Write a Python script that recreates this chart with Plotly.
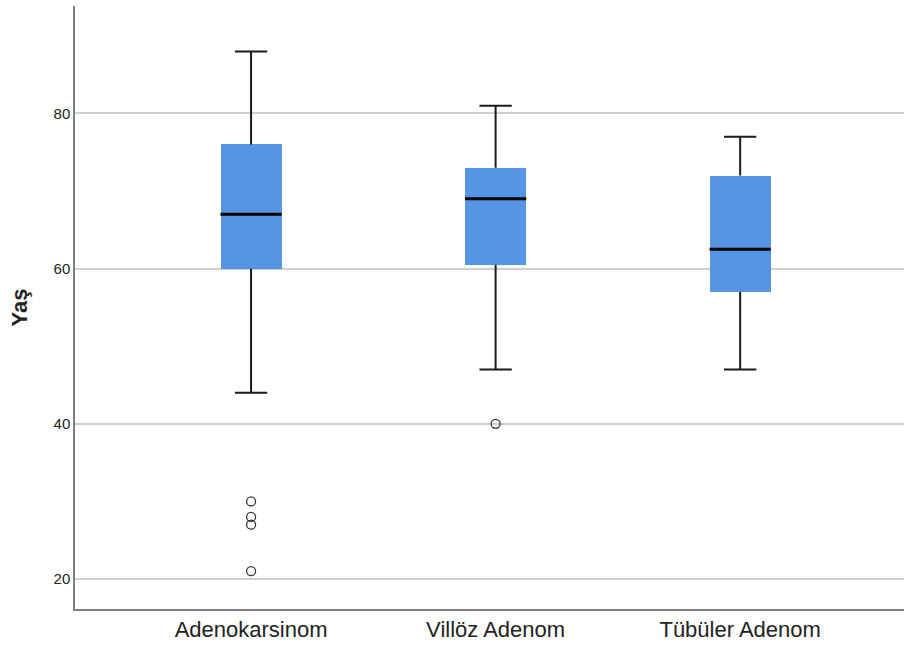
import plotly.graph_objects as go

categories = ["Adenokarsinom", "Villöz Adenom", "Tübüler Adenom"]
lower_whisker = [44, 47, 47]
q1 = [60, 60.5, 57]
median = [67, 69, 62.5]
q3 = [76, 73, 72]
upper_whisker = [88, 81, 77]
outliers = [[30, 28, 27, 21], [40], []]
y_ticks = [20, 40, 60, 80]

BOX_W = 0.25
CAP_HW = 0.066
pos = list(range(len(categories)))

fig = go.Figure()

# boxes
fig.add_trace(go.Bar(
    x=pos, y=[b - a for a, b in zip(q1, q3)], base=q1, width=BOX_W,
    marker=dict(color="#5595E4", line=dict(width=0)), showlegend=False, hoverinfo="skip"))

# whiskers
wx, wy = [], []
for i in pos:
    wx += [i, i, None, i, i, None]
    wy += [q3[i], upper_whisker[i], None, q1[i], lower_whisker[i], None]
    wx += [i - CAP_HW, i + CAP_HW, None, i - CAP_HW, i + CAP_HW, None]
    wy += [upper_whisker[i], upper_whisker[i], None, lower_whisker[i], lower_whisker[i], None]
fig.add_trace(go.Scatter(x=wx, y=wy, mode="lines", line=dict(color="#1a1a1a", width=2),
                         showlegend=False, hoverinfo="skip"))

# medians
mx, my = [], []
for i in pos:
    mx += [i - BOX_W / 2, i + BOX_W / 2, None]
    my += [median[i], median[i], None]
fig.add_trace(go.Scatter(x=mx, y=my, mode="lines", line=dict(color="black", width=3),
                         showlegend=False, hoverinfo="skip"))

# outliers
ox, oy = [], []
for i in pos:
    for v in outliers[i]:
        ox.append(i)
        oy.append(v)
fig.add_trace(go.Scatter(x=ox, y=oy, mode="markers",
                         marker=dict(symbol="circle-open", size=9, color="#333333",
                                     line=dict(width=1.3, color="#333333")),
                         showlegend=False))

fig.update_layout(
    width=904, height=648,
    margin=dict(l=75, r=0, t=6, b=39),
    paper_bgcolor="white", plot_bgcolor="white",
    font=dict(family="Liberation Sans, Arial, sans-serif", color="#222222"),
    bargap=0,
)
fig.update_xaxes(
    range=[-0.72, 2.67], tickvals=pos, ticktext=categories,
    tickfont=dict(size=22, color="#222222"), showgrid=False, zeroline=False,
    showline=True, linecolor="#7f7f7f", linewidth=1.5, ticks="", ticklen=0,
)
fig.update_yaxes(
    range=[16.13, 93.85], tickvals=y_ticks, tickfont=dict(size=15, color="#222222"),
    showgrid=True, gridcolor="#cfcfcf", gridwidth=1.5, zeroline=False,
    showline=True, linecolor="#7f7f7f", linewidth=1.5, ticks="",
    title=dict(text="<b>Yaş</b>", font=dict(size=22, color="#222222"), standoff=20),
)

fig.write_html(
    "out.html",
    config={"displayModeBar": False},
    post_script="document.body.style.margin='0';document.body.style.overflow='hidden';",
)
